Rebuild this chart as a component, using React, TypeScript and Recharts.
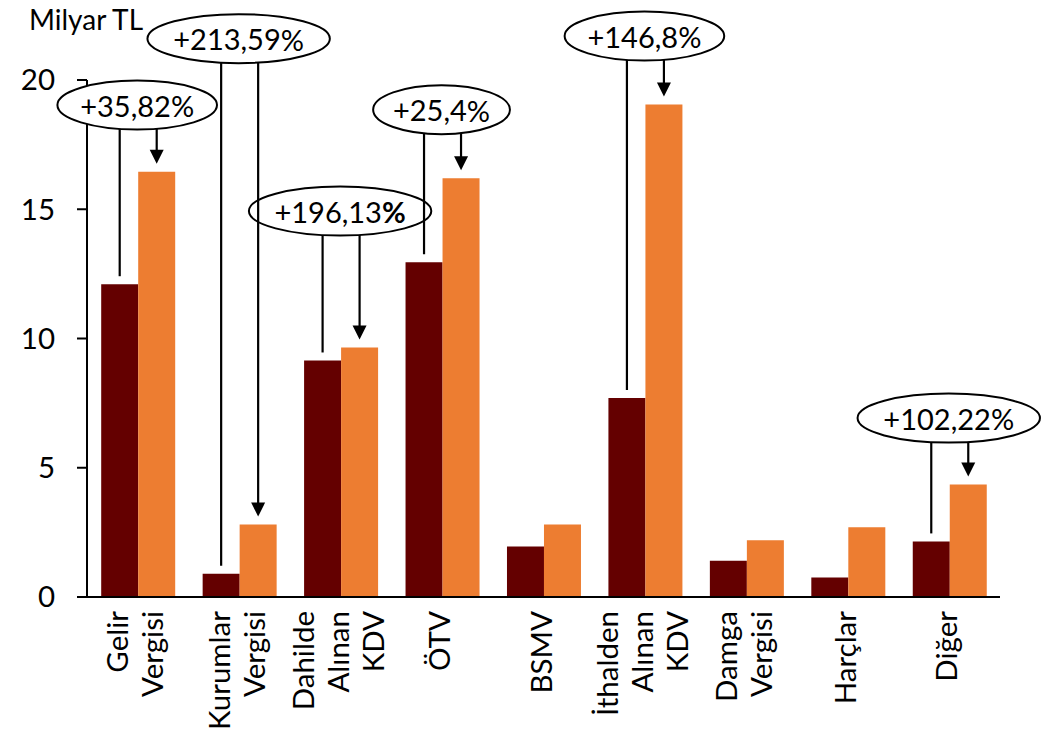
import React from 'react';
import { BarChart, Bar, XAxis, YAxis, LabelList } from 'recharts';

// Vergi türleri (x ekseni)
const categories = [
  'Gelir Vergisi',
  'Kurumlar Vergisi',
  'Dahilde Alınan KDV',
  'ÖTV',
  'BSMV',
  'İthalden Alınan KDV',
  'Damga Vergisi',
  'Harçlar',
  'Diğer',
];

// Milyar TL
const prevValues = [12.1, 0.9, 9.15, 12.95, 1.95, 7.7, 1.4, 0.75, 2.15];
const currValues = [16.45, 2.8, 9.65, 16.2, 2.8, 19.05, 2.2, 2.7, 4.35];

const yTicks = [0, 5, 10, 15, 20];

// artış oranları (boş = etiket yok)
const changeTexts = ['+35,82', '+213,59', '+196,13', '+25,4', '', '+146,8', '', '', '+102,22'];
const boldPercent = [false, false, true, false, false, false, false, false, false];
// balonun merkezinin y-ekseni değeri
const bubbleLevels = [19.03, 21.6, 14.93, 18.85, 0, 21.7, 0, 0, 6.92];

const data = categories.map((name, i) => ({
  name,
  prev: prevValues[i],
  curr: currValues[i],
}));

const FONT = 'Lato, sans-serif';
const DARK = '#640000';
const ORANGE = '#ED7D31';

const CategoryTick = (props: any) => {
  const { x, y, payload } = props;
  const lines = String(payload.value).split(' ');
  const n = lines.length;
  const top = y + 12;
  return (
    <g>
      {lines.map((line, i) => {
        const bx = x + (i - (n - 1) / 2) * 35 + 8;
        return (
          <text
            key={i}
            x={bx}
            y={top}
            transform={`rotate(-90, ${bx}, ${top})`}
            textAnchor="end"
            fontSize={29.5}
            fontFamily={FONT}
            fill="#000"
          >
            {line}
          </text>
        );
      })}
    </g>
  );
};

function geom(props: any) {
  const vb = props.viewBox && props.viewBox.width !== undefined ? props.viewBox : props;
  const { x, y, width, height } = vb;
  const i = props.index;
  const perUnit = height / currValues[i];
  const base = y + height;
  const text = changeTexts[i];
  const rx = 11.4 * (text.length + 1);
  const ry = 24.5;
  const cx = x - 1;
  const cy = base - bubbleLevels[i] * perUnit;
  return { x, y, width, base, perUnit, i, text, rx, ry, cx, cy };
}

const Bubble = (props: any) => {
  const g = geom(props);
  if (!g.text) return null;
  return (
    <g>
      <ellipse cx={g.cx} cy={g.cy} rx={g.rx} ry={g.ry} fill="#fff" stroke="#000" strokeWidth={2} />
      <text
        x={g.cx}
        y={g.cy}
        textAnchor="middle"
        dominantBaseline="central"
        fontSize={29}
        fontFamily={FONT}
        fill="#000"
      >
        {g.text}
        <tspan fontWeight={boldPercent[g.i] ? 'bold' : 'normal'}>%</tspan>
      </text>
    </g>
  );
};

const Connectors = (props: any) => {
  const g = geom(props);
  if (!g.text) return null;
  const darkX = g.x - g.width / 2;
  const arrowX = g.x + g.width / 2;
  const edge = (px: number) => {
    const d = (px - g.cx) / g.rx;
    return g.cy + g.ry * Math.sqrt(Math.max(0, 1 - d * d));
  };
  const darkTop = g.base - prevValues[g.i] * g.perUnit;
  const tip = g.y - 8;
  const head = 14;
  return (
    <g>
      <line x1={darkX} y1={edge(darkX)} x2={darkX} y2={darkTop - 8} stroke="#000" strokeWidth={2.2} />
      <line x1={arrowX} y1={edge(arrowX)} x2={arrowX} y2={tip - head + 1} stroke="#000" strokeWidth={2.2} />
      <polygon
        points={`${arrowX - 7},${tip - head} ${arrowX + 7},${tip - head} ${arrowX},${tip}`}
        fill="#000"
      />
    </g>
  );
};

export default function App() {
  return (
    <div style={{ position: 'absolute', left: 0, top: 0, width: 1056, height: 729, background: '#fff' }}>
      <div
        style={{
          position: 'absolute',
          left: 29,
          top: 2,
          fontFamily: FONT,
          fontSize: 28,
          color: '#000',
          whiteSpace: 'nowrap',
        }}
      >
        Milyar TL
      </div>
      <BarChart
        width={1056}
        height={729}
        data={data}
        margin={{ top: 80, right: 56, bottom: 0, left: 0 }}
        barCategoryGap="14%"
        barGap={0}
      >
        <XAxis
          dataKey="name"
          interval={0}
          height={132}
          tickLine={false}
          tickSize={0}
          axisLine={{ stroke: '#000', strokeWidth: 2.2 }}
          tick={<CategoryTick />}
        />
        <YAxis
          width={87}
          domain={[0, 20]}
          ticks={yTicks}
          tickSize={10}
          tickMargin={22}
          axisLine={{ stroke: '#000', strokeWidth: 2 }}
          tickLine={{ stroke: '#000', strokeWidth: 2 }}
          tick={{ fill: '#000', fontSize: 29.5, fontFamily: FONT }}
        />
        <Bar dataKey="prev" fill={DARK} isAnimationActive={false} />
        <Bar dataKey="curr" fill={ORANGE} isAnimationActive={false}>
          <LabelList dataKey="curr" content={<Bubble />} />
          <LabelList dataKey="curr" content={<Connectors />} />
        </Bar>
      </BarChart>
    </div>
  );
}
